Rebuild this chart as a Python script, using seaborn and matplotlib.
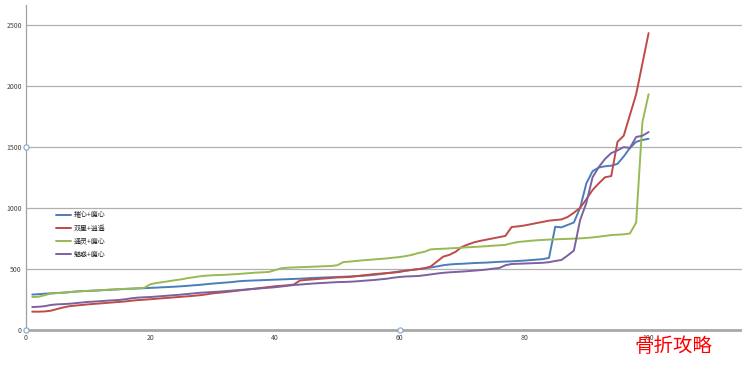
import numpy as np
import pandas as pd
import matplotlib
matplotlib.use("Agg")
import matplotlib.pyplot as plt
import seaborn as sns

rounds = list(range(1, 101))
names = ["摧心+魔心", "双星+逍遥", "通灵+魔心", "魅惑+魔心"]
colors = ["#4A7EBB", "#BE4B48", "#98B954", "#7D60A0"]

blue = [290, 293, 297, 300, 303, 306, 310, 315, 318, 320,
        322, 325, 328, 330, 333, 336, 338, 340, 342, 345,
        347, 350, 352, 355, 358, 362, 366, 370, 375, 380,
        384, 388, 392, 398, 402, 404, 406, 408, 410, 412,
        414, 416, 418, 420, 423, 426, 428, 430, 432, 434,
        436, 438, 441, 444, 447, 452, 458, 465, 472, 480,
        486, 492, 498, 505, 512, 520, 530, 536, 540, 542,
        545, 548, 550, 552, 555, 558, 560, 562, 565, 568,
        572, 576, 580, 590, 845, 840, 860, 880, 1000, 1200,
        1300, 1330, 1340, 1345, 1360, 1420, 1490, 1540, 1555, 1565]

red = [150, 150, 152, 158, 172, 185, 195, 200, 205, 210,
       214, 218, 222, 226, 230, 234, 240, 245, 248, 252,
       256, 260, 264, 268, 272, 276, 280, 285, 292, 300,
       305, 310, 316, 322, 328, 334, 340, 346, 352, 358,
       362, 366, 372, 405, 410, 414, 418, 422, 426, 430,
       432, 434, 440, 446, 452, 458, 462, 466, 470, 475,
       485, 492, 498, 505, 520, 560, 600, 615, 640, 680,
       700, 718, 730, 740, 750, 760, 770, 843, 848, 855,
       865, 875, 885, 895, 900, 905, 925, 960, 1000, 1070,
       1146, 1200, 1250, 1260, 1540, 1590, 1760, 1930, 2180, 2430]

green = [270, 272, 285, 298, 302, 305, 310, 314, 318, 320,
         323, 326, 329, 332, 335, 337, 339, 342, 345, 375,
         385, 392, 400, 408, 415, 425, 432, 440, 445, 448,
         450, 452, 455, 458, 462, 466, 470, 472, 475, 490,
         505, 510, 512, 514, 516, 518, 520, 522, 524, 530,
         556, 560, 565, 570, 574, 578, 582, 586, 592, 597,
         605, 615, 630, 640, 660, 663, 665, 668, 671, 674,
         677, 680, 683, 686, 690, 693, 697, 710, 720, 725,
         730, 734, 737, 740, 742, 744, 746, 748, 750, 753,
         758, 764, 770, 777, 780, 783, 790, 880, 1700, 1930]

purple = [188, 190, 195, 205, 210, 212, 215, 220, 225, 230,
          233, 236, 240, 243, 246, 252, 260, 265, 268, 270,
          274, 278, 282, 286, 290, 295, 300, 305, 308, 311,
          314, 318, 322, 326, 330, 334, 338, 342, 346, 350,
          356, 362, 368, 372, 376, 380, 383, 386, 389, 392,
          393, 395, 398, 402, 406, 410, 415, 420, 428, 434,
          438, 440, 442, 448, 455, 462, 468, 472, 475, 478,
          482, 486, 490, 495, 502, 507, 530, 540, 542, 544,
          546, 548, 550, 555, 565, 573, 610, 650, 900, 1040,
          1250, 1334, 1400, 1448, 1470, 1497, 1490, 1580, 1590, 1620]

yticks = [0, 500, 1000, 1500, 2000, 2500]
xticks = [0, 20, 40, 60, 80, 100]

df = pd.DataFrame({"x": rounds * 4,
                   "value": blue + red + green + purple,
                   "combo": sum([[n] * len(rounds) for n in names], [])})

sns.set_style("white")
plt.rcParams['font.family'] = ['Noto Sans CJK SC', 'DejaVu Sans']

fig = plt.figure(figsize=(7.42, 3.66), dpi=100)
ax = fig.add_axes([26 / 742, 36 / 366, 716 / 742, 325 / 366])

sns.lineplot(data=df, x="x", y="value", hue="combo", palette=colors,
             linewidth=1.4, ax=ax)

ax.set_xlim(0, 115)
ax.set_ylim(0, 2660)
ax.set_yticks(yticks)
ax.set_xticks(xticks)
ax.tick_params(labelsize=5, colors="#444444", length=0, pad=3)
ax.set_xlabel("")
ax.set_ylabel("")
for y in yticks[1:]:
    ax.axhline(y, color="#B0B0B0", linewidth=0.9, zorder=0)
ax.spines["top"].set_visible(False)
ax.spines["right"].set_visible(False)
ax.spines["left"].set_color("#A0A0A0")
ax.spines["left"].set_linewidth(0.9)
ax.spines["bottom"].set_color("#A8A8A8")
ax.spines["bottom"].set_linewidth(2)

# selection handles seen on the picture
ax.scatter([0, 0, 60], [0, 1500, 0], s=14, facecolor="white",
           edgecolor="#7FA6C9", linewidth=0.8, zorder=5, clip_on=False)

leg = ax.legend(loc="upper left", bbox_to_anchor=(0.033, 0.385), frameon=False,
                fontsize=5, handlelength=2.2, labelspacing=0.75, handletextpad=0.4)

fig.text(0.855, 0.025, "骨折攻略", color="red", fontsize=14, ha="left",
         va="bottom")

fig.savefig("out.png", dpi=100)
